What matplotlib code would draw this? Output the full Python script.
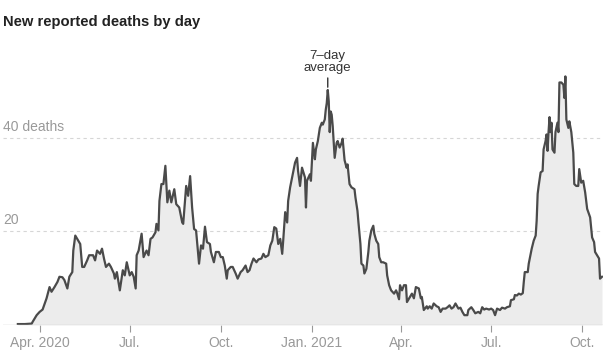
import matplotlib
matplotlib.use("Agg")
import matplotlib.pyplot as plt
import pandas as pd

plt.rcParams["font.family"] = ["Liberation Sans Narrow", "Liberation Sans", "DejaVu Sans"]

# 7-day average of new reported deaths (one row per month)
dates = [
    "2020-03-10", "2020-03-17", "2020-03-24", "2020-03-25", "2020-03-29",
    "2020-04-01", "2020-04-04", "2020-04-08", "2020-04-11", "2020-04-13", "2020-04-16", "2020-04-19", "2020-04-21", "2020-04-24", "2020-04-26", "2020-04-29",
    "2020-05-01", "2020-05-04", "2020-05-05", "2020-05-07", "2020-05-10", "2020-05-12", "2020-05-14", "2020-05-16", "2020-05-19", "2020-05-21", "2020-05-25", "2020-05-27", "2020-05-29",
    "2020-06-01", "2020-06-03", "2020-06-05", "2020-06-07", "2020-06-10", "2020-06-12", "2020-06-15", "2020-06-16", "2020-06-18", "2020-06-21", "2020-06-24", "2020-06-26", "2020-06-28",
    "2020-07-01", "2020-07-03", "2020-07-05", "2020-07-07", "2020-07-08", "2020-07-10", "2020-07-13", "2020-07-15", "2020-07-18", "2020-07-20", "2020-07-22", "2020-07-24", "2020-07-27", "2020-07-28", "2020-07-30", "2020-07-31",
    "2020-08-02", "2020-08-04", "2020-08-06", "2020-08-08", "2020-08-10", "2020-08-12", "2020-08-15", "2020-08-17", "2020-08-20", "2020-08-23", "2020-08-24", "2020-08-27", "2020-08-29", "2020-08-31",
    "2020-09-02", "2020-09-04", "2020-09-06", "2020-09-09", "2020-09-11", "2020-09-13", "2020-09-15", "2020-09-17", "2020-09-20", "2020-09-21", "2020-09-24", "2020-09-26", "2020-09-29",
    "2020-10-01", "2020-10-03", "2020-10-05", "2020-10-07", "2020-10-08", "2020-10-11", "2020-10-13", "2020-10-16", "2020-10-18", "2020-10-21", "2020-10-23", "2020-10-26", "2020-10-28", "2020-10-30",
    "2020-11-01", "2020-11-03", "2020-11-06", "2020-11-08", "2020-11-11", "2020-11-13", "2020-11-15", "2020-11-18", "2020-11-20", "2020-11-22", "2020-11-24", "2020-11-26", "2020-11-28", "2020-11-30",
    "2020-12-02", "2020-12-03", "2020-12-05", "2020-12-07", "2020-12-08", "2020-12-10", "2020-12-12", "2020-12-14", "2020-12-15", "2020-12-17", "2020-12-18", "2020-12-20", "2020-12-22", "2020-12-25", "2020-12-26", "2020-12-27", "2020-12-30", "2020-12-31",
    "2021-01-02", "2021-01-04", "2021-01-05", "2021-01-07", "2021-01-09", "2021-01-11", "2021-01-12", "2021-01-14", "2021-01-15", "2021-01-16", "2021-01-17", "2021-01-18", "2021-01-19", "2021-01-20", "2021-01-21", "2021-01-22", "2021-01-23", "2021-01-24", "2021-01-26", "2021-01-27", "2021-01-29", "2021-01-31",
    "2021-02-01", "2021-02-03", "2021-02-05", "2021-02-06", "2021-02-08", "2021-02-10", "2021-02-13", "2021-02-14", "2021-02-16", "2021-02-17", "2021-02-19", "2021-02-20", "2021-02-22", "2021-02-23", "2021-02-25", "2021-02-27", "2021-02-28",
    "2021-03-02", "2021-03-04", "2021-03-05", "2021-03-07", "2021-03-09", "2021-03-10", "2021-03-12", "2021-03-14", "2021-03-17", "2021-03-18", "2021-03-20", "2021-03-22", "2021-03-25", "2021-03-27", "2021-03-28", "2021-03-30", "2021-03-31",
    "2021-04-02", "2021-04-04", "2021-04-06", "2021-04-07", "2021-04-10", "2021-04-12", "2021-04-14", "2021-04-16", "2021-04-19", "2021-04-21", "2021-04-22", "2021-04-24", "2021-04-27", "2021-04-28", "2021-04-30",
    "2021-05-02", "2021-05-04", "2021-05-07", "2021-05-09", "2021-05-11", "2021-05-13", "2021-05-16", "2021-05-18", "2021-05-20", "2021-05-22", "2021-05-24", "2021-05-26", "2021-05-29", "2021-05-31",
    "2021-06-02", "2021-06-04", "2021-06-07", "2021-06-08", "2021-06-11", "2021-06-13", "2021-06-15", "2021-06-18", "2021-06-20", "2021-06-22", "2021-06-24", "2021-06-26", "2021-06-29",
    "2021-07-01", "2021-07-03", "2021-07-05", "2021-07-07", "2021-07-10", "2021-07-12", "2021-07-15", "2021-07-17", "2021-07-20", "2021-07-21", "2021-07-24", "2021-07-25", "2021-07-27", "2021-07-29", "2021-07-31",
    "2021-08-02", "2021-08-03", "2021-08-04", "2021-08-07", "2021-08-08", "2021-08-10", "2021-08-11", "2021-08-13", "2021-08-15", "2021-08-16", "2021-08-17", "2021-08-18", "2021-08-20", "2021-08-22", "2021-08-23", "2021-08-25", "2021-08-26", "2021-08-27", "2021-08-28", "2021-08-29", "2021-08-30", "2021-08-31",
    "2021-09-01", "2021-09-03", "2021-09-04", "2021-09-06", "2021-09-07", "2021-09-08", "2021-09-10", "2021-09-12", "2021-09-13", "2021-09-14", "2021-09-15", "2021-09-17", "2021-09-18", "2021-09-20", "2021-09-22", "2021-09-23", "2021-09-25", "2021-09-27", "2021-09-28", "2021-09-30",
    "2021-10-02", "2021-10-04", "2021-10-06", "2021-10-09", "2021-10-11", "2021-10-13", "2021-10-14", "2021-10-16", "2021-10-18", "2021-10-19", "2021-10-21",
]
deaths = [
    0.2, 0.2, 0.3, 0.7, 2.1,
    2.8, 3.3, 5.7, 8.1, 7.1, 8.1, 9.2, 10.3, 10.2, 9.6, 7.8,
    10.3, 11.3, 15.9, 19.1, 18.0, 17.3, 12.4, 12.4, 13.8, 14.9, 14.9, 13.8, 15.9,
    15.2, 16.3, 14.2, 12.4, 13.1, 12.4, 11.0, 9.9, 11.3, 7.4, 11.7, 10.6, 13.4,
    10.6, 11.3, 10.3, 7.8, 14.9, 15.9, 19.5, 14.5, 15.9, 14.9, 18.4, 18.7, 19.8, 21.6, 20.2, 26.5,
    30.1, 30.1, 34.0, 26.2, 28.7, 26.2, 29.0, 25.8, 25.1, 21.9, 21.6, 29.7, 27.6, 31.8,
    25.1, 20.5, 20.2, 13.1, 17.0, 16.3, 21.0, 17.7, 17.3, 15.6, 13.4, 15.6, 15.6,
    14.5, 14.5, 12.7, 9.9, 11.7, 12.4, 12.4, 11.0, 9.9, 11.3, 11.7, 12.7, 11.3, 11.7,
    13.1, 14.2, 13.4, 14.0, 14.2, 15.2, 14.5, 14.9, 17.0, 18.0, 20.9, 20.6, 17.3, 18.4,
    15.2, 18.0, 24.1, 21.9, 26.5, 29.4, 31.5, 33.6, 34.7, 35.7, 32.9, 29.7, 33.6, 31.5, 25.1, 30.8, 32.2, 30.8,
    38.9, 35.4, 37.5, 39.3, 42.1, 43.2, 42.8, 43.9, 46.0, 47.4, 50.2, 47.8, 41.2, 45.6, 44.9, 42.5, 38.9, 35.7, 38.9, 39.3, 37.9, 38.9,
    39.8, 35.2, 33.6, 34.3, 30.1, 29.4, 29.0, 27.2, 24.4, 21.9, 17.3, 13.1, 12.7, 11.0, 12.0, 15.6, 18.0,
    20.2, 21.2, 19.5, 18.0, 17.3, 14.5, 13.4, 13.4, 13.1, 10.6, 8.5, 7.4, 6.7, 7.4, 6.9, 5.5, 8.5,
    7.4, 8.5, 8.5, 4.9, 6.0, 6.7, 5.7, 8.1, 7.8, 5.7, 6.0, 3.2, 4.0, 3.5, 4.0,
    3.5, 4.6, 4.0, 3.8, 2.8, 3.5, 3.5, 3.8, 4.2, 3.5, 3.8, 4.6, 3.5, 3.7,
    2.8, 2.1, 2.1, 3.2, 3.8, 3.2, 2.5, 2.8, 2.5, 3.8, 3.3, 3.5, 3.3,
    3.5, 3.2, 2.1, 3.5, 3.2, 3.7, 3.5, 3.8, 4.0, 5.3, 5.5, 6.4, 6.3, 6.7, 6.5,
    6.8, 9.2, 11.3, 11.3, 13.1, 15.2, 16.3, 18.0, 19.1, 22.3, 28.0, 29.7, 32.6, 32.9, 37.5, 39.3, 40.7, 37.2, 41.2, 44.4, 41.2, 43.2,
    37.5, 36.8, 41.2, 43.2, 41.2, 51.8, 51.8, 51.3, 48.5, 53.1, 43.9, 42.1, 43.5, 41.2, 36.8, 30.1, 29.7, 29.7, 33.3, 30.4,
    30.8, 28.3, 24.8, 23.0, 18.7, 17.7, 15.6, 14.9, 14.2, 9.9, 10.3,
]

tick_dates = ["2020-04-01", "2020-07-01", "2020-10-01", "2021-01-01", "2021-04-01", "2021-07-01", "2021-10-01"]
tick_labels = ["Apr. 2020", "Jul.", "Oct.", "Jan. 2021", "Apr.", "Jul.", "Oct."]
grid_values = [20, 40]
grid_labels = ["20", "40 deaths"]
note_date = "2021-01-17"

x = pd.to_datetime(dates)

fig = plt.figure(figsize=(6.14, 3.64), dpi=100)
ax = fig.add_axes([3 / 614, 1 - 325 / 364, 600 / 614, 265 / 364])

ax.fill_between(x, deaths, color="#ececec", lw=0, zorder=2)
ax.plot(x, deaths, color="#4a4a4a", lw=1.6, solid_joinstyle="round", zorder=3)

# dashed guides sit behind the fill
for val, lab in zip(grid_values, grid_labels):
    ax.axhline(val, color="#d6d6d6", lw=0.8, ls=(0, (3, 3)), zorder=1)
    ax.annotate(lab, xy=(0, val), xycoords=("axes fraction", "data"),
                xytext=(0, 4), textcoords="offset pixels",
                ha="left", va="bottom", fontsize=10, color="#999999")
ax.axhline(0, color="#d0d0d0", lw=1, zorder=4)

ax.set_xlim(pd.Timestamp("2020-02-24"), pd.Timestamp("2021-10-22"))
ax.set_ylim(0, 56.6)
ax.set_xticks(pd.to_datetime(tick_dates))
ax.set_xticklabels(tick_labels)
ax.tick_params(axis="x", length=5, width=0.8, color="#999999", labelcolor="#999999",
               labelsize=10, pad=3)
ax.set_yticks([])
for s in ax.spines.values():
    s.set_visible(False)

# 7-day average callout on the January 2021 peak
i = dates.index(note_date)
ax.annotate("", xy=(x[i], deaths[i]), xytext=(0, 12), textcoords="offset pixels",
            arrowprops=dict(arrowstyle="-", color="#333333", lw=1, shrinkA=0, shrinkB=2))
ax.annotate("7\u2013day\naverage", xy=(x[i], deaths[i]), xytext=(0, 16), textcoords="offset pixels",
            ha="center", va="bottom", fontsize=9.5, color="#333333", linespacing=1.0)

fig.text(3 / 614, 1 - 22 / 364, "New reported deaths by day", ha="left", va="center",
         fontsize=10.6, fontweight="bold", color="#222222")

fig.savefig("out.png", dpi=100)
